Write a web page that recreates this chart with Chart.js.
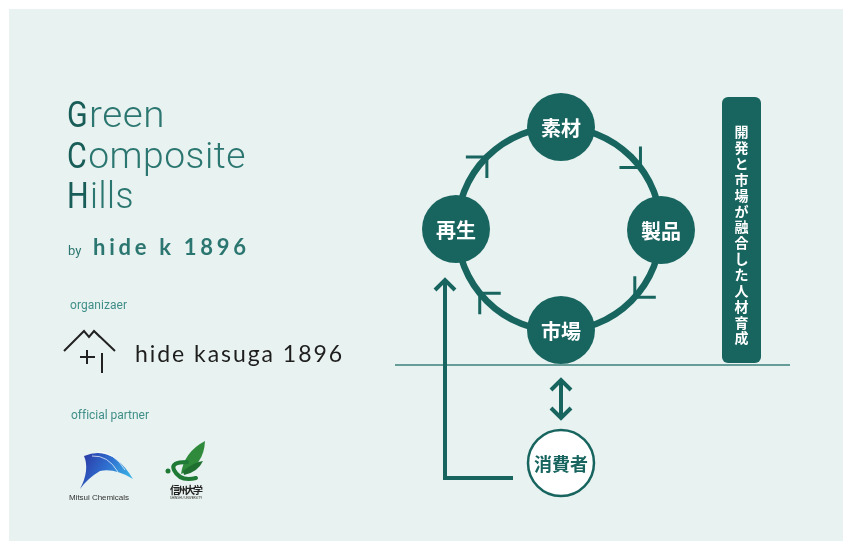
<!DOCTYPE html>
<html>
<head>
<meta charset="utf-8">
<script src="https://cdn.jsdelivr.net/npm/chart.js@4.4.0/dist/chart.umd.min.js"></script>
<style>
  html, body { margin: 0; padding: 0; background: #ffffff; }
  #wrap { width: 851px; height: 548px; }
</style>
</head>
<body>
<div id="wrap"><canvas id="diagram" width="851" height="548"></canvas></div>
<script>
// cycle nodes (diagram units = canvas pixels)
const nodeLabels = ['素材', '製品', '市場', '再生'];
const nodeX = [561, 661, 561, 456];
const nodeY = [127, 230, 330, 229];

// consumer node
const consumerLabel = ['消費者'];
const consumerX = [561];
const consumerY = [463];

// ring through the nodes and the half-way arrowheads (degrees, clockwise)
const ringCenter = [559, 229];
const ringRadius = [102];
const ringArrowAngles = [-135, -37, 42, 141];

// feedback path from consumer back to 再生
const feedbackX = [513, 445, 445];
const feedbackY = [478, 478, 282];

// ground line and the two-way link
const groundX = [395, 790];
const groundY = [365, 365];
const linkX = [561, 561];
const linkY = [381, 417];

// side banner text
const bannerText = '開発と市場が融合した人材育成';

const TEAL = '#186560';
const PANEL = '#e8f2f0';

function pts(xs, ys) {
    return xs.map((x, i) => ({ x: x, y: ys[i] }));
}

// draw text stretched to a target width with letter spacing
function fitText(ctx, text, x, y, w) {
    ctx.letterSpacing = '0px';
    const m = ctx.measureText(text).width;
    const sp = text.length > 1 ? (w - m) / (text.length - 1) : 0;
    ctx.letterSpacing = sp.toFixed(2) + 'px';
    ctx.fillText(text, x, y);
    ctx.letterSpacing = '0px';
}

// draw text squeezed/stretched horizontally to a target width
function scaleText(ctx, text, x, y, w) {
    ctx.letterSpacing = '0.5px';
    const m = ctx.measureText(text).width;
    ctx.save();
    ctx.translate(x, y);
    ctx.scale(w / m, 1);
    ctx.fillText(text, 0, 0);
    ctx.restore();
    ctx.letterSpacing = '0px';
    return w;
}

function chevron(ctx, tx, ty, w1, w2, len) {
    ctx.beginPath();
    ctx.moveTo(tx + w1[0] * len, ty + w1[1] * len);
    ctx.lineTo(tx, ty);
    ctx.lineTo(tx + w2[0] * len, ty + w2[1] * len);
    ctx.stroke();
}

const diagramPlugin = {
    id: 'diagram',
    beforeDraw(chart) {
        const ctx = chart.ctx;
        ctx.save();
        ctx.fillStyle = '#ffffff';
        ctx.fillRect(0, 0, chart.width, chart.height);
        ctx.fillStyle = PANEL;
        ctx.fillRect(9, 9, 834, 532);
        ctx.restore();
    },
    beforeDatasetsDraw(chart) {
        const ctx = chart.ctx;
        const xs = chart.scales.x, ys = chart.scales.y;
        const cx = xs.getPixelForValue(ringCenter[0]);
        const cy = ys.getPixelForValue(ringCenter[1]);
        const r = xs.getPixelForValue(ringCenter[0] + ringRadius[0]) - cx;
        ctx.save();
        ctx.strokeStyle = TEAL;
        ctx.lineWidth = 6.5;
        ctx.beginPath();
        ctx.arc(cx, cy, r, 0, Math.PI * 2);
        ctx.stroke();

        // arrowheads on the ring
        ctx.lineWidth = 3;
        ctx.lineCap = 'butt';
        ringArrowAngles.forEach(deg => {
            const a = deg * Math.PI / 180;
            const tx = cx + r * Math.cos(a), ty = cy + r * Math.sin(a);
            const d45 = (Math.floor(deg / 90) * 90 + 45) * Math.PI / 180;
            const bx = Math.sin(d45), by = -Math.cos(d45); // reverse of travel
            const c = Math.SQRT1_2;
            const w1 = [c * (bx - by), c * (bx + by)];
            const w2 = [c * (bx + by), c * (by - bx)];
            chevron(ctx, tx, ty, w1, w2, 21);
        });
        ctx.restore();
    },
    afterDatasetsDraw(chart) {
        const ctx = chart.ctx;
        const xs = chart.scales.x, ys = chart.scales.y;
        const X = v => xs.getPixelForValue(v);
        const Y = v => ys.getPixelForValue(v);
        ctx.save();

        // arrowheads of the feedback path and two-way link
        ctx.strokeStyle = TEAL;
        ctx.lineWidth = 4;
        ctx.lineJoin = 'miter';
        const n = feedbackX.length - 1;
        chevron(ctx, X(feedbackX[n]), Y(feedbackY[n]) - 2, [-1, 1], [1, 1], 10);
        chevron(ctx, X(linkX[0]), Y(linkY[0]) - 1, [-1, 1], [1, 1], 10);
        chevron(ctx, X(linkX[1]), Y(linkY[1]) + 1, [-1, -1], [1, -1], 10);

        // node labels
        ctx.textAlign = 'center';
        ctx.textBaseline = 'middle';
        ctx.fillStyle = '#ffffff';
        ctx.font = 'bold 20px "Noto Sans CJK JP"';
        nodeLabels.forEach((t, i) => ctx.fillText(t, X(nodeX[i]), Y(nodeY[i]) + 1));
        ctx.fillStyle = TEAL;
        ctx.font = 'bold 18px "Noto Sans CJK JP"';
        ctx.fillText(consumerLabel[0], X(consumerX[0]), Y(consumerY[0]) + 1);

        // side banner
        ctx.fillStyle = TEAL;
        ctx.beginPath();
        ctx.roundRect(722, 97, 39, 266, 6);
        ctx.fill();
        ctx.fillStyle = '#ffffff';
        ctx.font = 'bold 14px "Noto Sans CJK JP"';
        [...bannerText].forEach((ch, i) => ctx.fillText(ch, 741.5, 132 + i * 15.85));

        // title
        ctx.textAlign = 'left';
        ctx.textBaseline = 'alphabetic';
        const words = [['G', 'reen', 127, 98], ['C', 'omposite', 168, 179], ['H', 'ills', 208, 67]];
        words.forEach(w => {
            ctx.font = '400 36px Roboto';
            ctx.fillStyle = '#195d58';
            const iw = ctx.measureText(w[0]).width * 0.86;
            scaleText(ctx, w[0], 67, w[2], iw);
            ctx.font = '300 36px Roboto';
            ctx.fillStyle = '#2b7670';
            scaleText(ctx, w[1], 67 + iw + 1, w[2], w[3] - iw - 1);
        });
        ctx.fillStyle = '#2b7670';
        ctx.font = '400 13px Roboto';
        ctx.fillText('by', 68, 255);
        ctx.font = '700 22px Lato';
        fitText(ctx, 'hide k 1896', 93, 255, 153);

        // organizer
        ctx.fillStyle = '#3f8f88';
        ctx.font = '400 12px Roboto';
        fitText(ctx, 'organizaer', 70, 309, 57);
        ctx.strokeStyle = '#222222';
        ctx.lineWidth = 2;
        ctx.lineJoin = 'miter';
        ctx.beginPath();
        ctx.moveTo(64, 351); ctx.lineTo(84, 331); ctx.lineTo(89, 337);
        ctx.lineTo(94, 331); ctx.lineTo(115, 351);
        ctx.moveTo(78, 337); ctx.lineTo(84, 331);
        ctx.moveTo(94, 331); ctx.lineTo(100, 337);
        ctx.moveTo(80, 357); ctx.lineTo(95, 357);
        ctx.moveTo(87, 350); ctx.lineTo(87, 364);
        ctx.moveTo(102, 353); ctx.lineTo(102, 373);
        ctx.stroke();
        ctx.fillStyle = '#1e1e1e';
        ctx.font = '400 23px Lato';
        fitText(ctx, 'hide kasuga 1896', 135, 362, 207);

        // partners
        ctx.fillStyle = '#3f8f88';
        ctx.font = '400 12px Roboto';
        fitText(ctx, 'official partner', 71, 419, 77);

        // Mitsui Chemicals mark
        const g = ctx.createLinearGradient(80, 450, 135, 480);
        g.addColorStop(0, '#2a2f9c');
        g.addColorStop(0.5, '#2f6fd0');
        g.addColorStop(1, '#3cc0ea');
        ctx.fillStyle = g;
        ctx.beginPath();
        ctx.moveTo(80, 489);
        ctx.quadraticCurveTo(90, 470, 84, 456);
        ctx.quadraticCurveTo(112, 444, 133, 479);
        ctx.quadraticCurveTo(115, 468, 100, 471);
        ctx.quadraticCurveTo(88, 478, 80, 489);
        ctx.fill();
        ctx.strokeStyle = 'rgba(255,255,255,0.7)';
        ctx.lineWidth = 1;
        ctx.beginPath();
        ctx.moveTo(92, 456); ctx.quadraticCurveTo(108, 455, 118, 472);
        ctx.moveTo(98, 452); ctx.quadraticCurveTo(114, 452, 125, 470);
        ctx.stroke();
        ctx.fillStyle = '#333333';
        ctx.font = '400 8px "Liberation Sans Narrow", "Liberation Sans"';
        fitText(ctx, 'Mitsui Chemicals', 69, 500, 60);

        // Shinshu University mark
        ctx.fillStyle = '#2f8a3c';
        ctx.beginPath();
        ctx.moveTo(181, 474);
        ctx.quadraticCurveTo(184, 452, 205, 441);
        ctx.quadraticCurveTo(204, 466, 181, 474);
        ctx.fill();
        ctx.fillStyle = '#1f7030';
        ctx.beginPath();
        ctx.moveTo(183, 471);
        ctx.quadraticCurveTo(194, 462, 203, 461);
        ctx.quadraticCurveTo(198, 472, 184, 475);
        ctx.fill();
        ctx.strokeStyle = '#1f7a35';
        ctx.lineWidth = 4;
        ctx.lineCap = 'round';
        ctx.beginPath();
        ctx.moveTo(187, 462);
        ctx.quadraticCurveTo(170, 462, 174, 470);
        ctx.quadraticCurveTo(180, 482, 196, 478);
        ctx.stroke();
        ctx.fillStyle = '#1f7a35';
        ctx.beginPath();
        ctx.arc(168, 471, 2.5, 0, Math.PI * 2);
        ctx.fill();
        ctx.fillStyle = '#222222';
        ctx.font = 'bold 10px "Noto Sans CJK JP"';
        fitText(ctx, '信州大学', 170, 494, 33);
        ctx.font = '400 3px Roboto';
        fitText(ctx, 'SHINSHU UNIVERSITY', 170, 499, 32);

        ctx.restore();
    }
};

new Chart(document.getElementById('diagram'), {
    type: 'scatter',
    data: {
        datasets: [
            {
                label: 'cycle',
                data: pts(nodeX, nodeY),
                pointRadius: 34,
                backgroundColor: TEAL,
                borderWidth: 0,
                clip: false
            },
            {
                label: 'consumer',
                data: pts(consumerX, consumerY),
                pointRadius: 33,
                backgroundColor: '#ffffff',
                borderColor: TEAL,
                borderWidth: 2.5,
                clip: false
            },
            {
                label: 'feedback',
                data: pts(feedbackX, feedbackY),
                showLine: true,
                borderColor: TEAL,
                borderWidth: 4,
                pointRadius: 0,
                tension: 0,
                clip: false
            },
            {
                label: 'link',
                data: pts(linkX, linkY),
                showLine: true,
                borderColor: TEAL,
                borderWidth: 4,
                pointRadius: 0,
                clip: false
            },
            {
                label: 'ground',
                data: pts(groundX, groundY),
                showLine: true,
                borderColor: '#3c807b',
                borderWidth: 1.5,
                pointRadius: 0,
                clip: false
            }
        ]
    },
    options: {
        responsive: false,
        animation: false,
        events: [],
        layout: { padding: 0, autoPadding: false },
        scales: {
            x: { type: 'linear', min: 0, max: 851, display: false },
            y: { type: 'linear', min: 0, max: 548, reverse: true, display: false }
        },
        plugins: {
            legend: { display: false },
            tooltip: { enabled: false }
        }
    },
    plugins: [diagramPlugin]
});
</script>
</body>
</html>
